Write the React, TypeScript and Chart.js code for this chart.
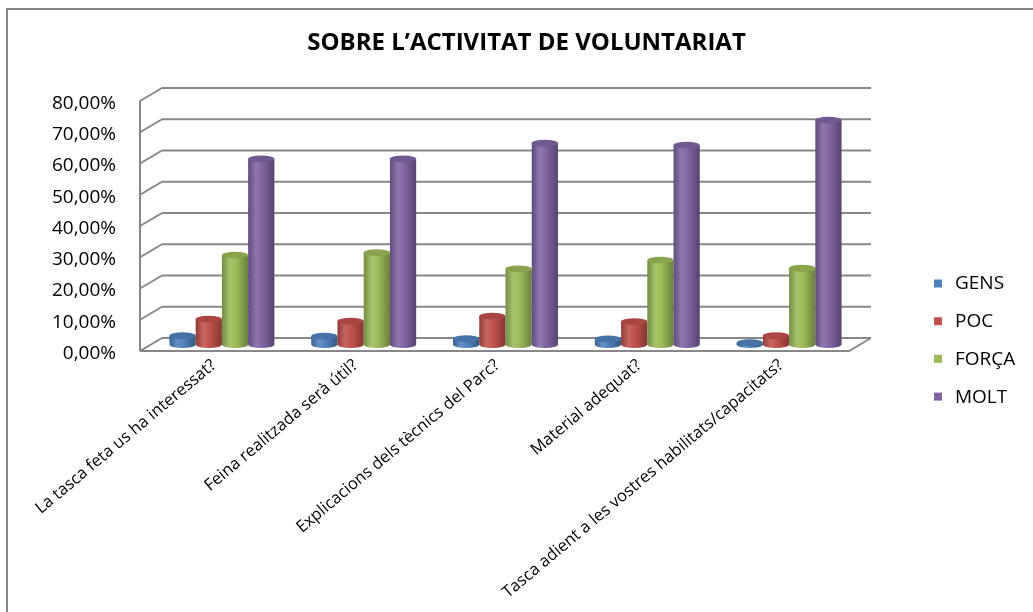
import React, { useEffect, useRef } from "react";
import { Chart, registerables } from "chart.js";

Chart.register(...registerables);

const chartTitle = "SOBRE L’ACTIVITAT DE VOLUNTARIAT";
const categories = [
  "La tasca feta us ha interessat?",
  "Feina realitzada serà útil?",
  "Explicacions dels tècnics del Parc?",
  "Material adequat?",
  "Tasca adient a les vostres habilitats/capacitats?",
];
const seriesNames = ["GENS", "POC", "FORÇA", "MOLT"];
const gens = [2.8, 2.7, 1.9, 1.8, 0.6];
const poc = [8.1, 7.5, 9.1, 7.3, 2.8];
const forca = [28.6, 29.4, 24.2, 27.0, 24.4];
const molt = [59.4, 59.4, 64.4, 63.8, 71.8];
const seriesColors = ["#4F81BD", "#C0504D", "#9BBB59", "#8064A2"];
const yMin = 0;
const yMax = 80;
const yStep = 10;

const DX = 11;
const DY = 6.5;

function shade(hex: string, f: number): string {
  const n = parseInt(hex.slice(1), 16);
  const ch = [(n >> 16) & 255, (n >> 8) & 255, n & 255].map((c) => {
    const v = f >= 1 ? c + (255 - c) * (f - 1) : c * f;
    return Math.max(0, Math.min(255, Math.round(v)));
  });
  return `rgb(${ch[0]},${ch[1]},${ch[2]})`;
}

const threeD = {
  id: "threeD",
  beforeDatasetsDraw(chart: any) {
    const { ctx, chartArea } = chart;
    const { left, right } = chartArea;
    const y = chart.scales.y;
    ctx.save();
    ctx.strokeStyle = "#878787";
    ctx.lineWidth = 2;
    const line = (x1: number, y1: number, x2: number, y2: number) => {
      ctx.beginPath();
      ctx.moveTo(x1, y1);
      ctx.lineTo(x2, y2);
      ctx.stroke();
    };
    y.ticks.forEach((t: any) => {
      const py = y.getPixelForValue(t.value);
      line(left + DX, py - DY, right + DX, py - DY);
      line(left - DX, py + DY, left + DX, py - DY);
    });
    const y0 = y.getPixelForValue(yMin);
    const yT = y.getPixelForValue(yMax);
    line(left - DX, y0 + DY, left - DX, yT + DY);
    ctx.beginPath();
    ctx.moveTo(left - DX, y0 + DY);
    ctx.lineTo(right - DX, y0 + DY);
    ctx.lineTo(right + DX, y0 - DY);
    ctx.stroke();
    ctx.restore();
  },
  afterDatasetsDraw(chart: any) {
    const { ctx } = chart;
    ctx.save();
    chart.data.datasets.forEach((ds: any, i: number) => {
      const meta = chart.getDatasetMeta(i);
      const c = seriesColors[i];
      meta.data.forEach((el: any) => {
        const { x, y, base, width } = el.getProps(["x", "y", "base", "width"], true);
        const w = width;
        const l = x - w / 2;
        const r = x + w / 2;
        const ry = 3.4;
        const grad = ctx.createLinearGradient(l, 0, r, 0);
        grad.addColorStop(0, shade(c, 0.75));
        grad.addColorStop(0.3, shade(c, 1.12));
        grad.addColorStop(0.55, shade(c, 1.0));
        grad.addColorStop(1, shade(c, 0.68));
        ctx.fillStyle = grad;
        ctx.beginPath();
        ctx.moveTo(l, y);
        ctx.lineTo(l, base);
        ctx.ellipse(x, base, w / 2, ry, 0, Math.PI, 0, true);
        ctx.lineTo(r, y);
        ctx.closePath();
        ctx.fill();
        ctx.fillStyle = shade(c, 0.88);
        ctx.beginPath();
        ctx.ellipse(x, y, w / 2, ry, 0, 0, Math.PI * 2);
        ctx.fill();
      });
    });
    ctx.restore();
  },
  afterDraw(chart: any) {
    const { ctx } = chart;
    ctx.save();
    // legend
    const cy0 = 283;
    const gap = 37.7;
    ctx.font = '19px "Open Sans"';
    ctx.textBaseline = "middle";
    ctx.textAlign = "left";
    seriesNames.forEach((name, i) => {
      const cy = cy0 + gap * i;
      ctx.fillStyle = seriesColors[i];
      ctx.fillRect(934, cy - 3.5, 8, 8);
      ctx.fillStyle = "#000";
      ctx.fillText(name, 955, cy + 1);
    });
    // outer frame
    ctx.strokeStyle = "#868686";
    ctx.lineWidth = 2;
    ctx.strokeRect(7, 9, 1100, 700);
    ctx.restore();
  },
};

export default function App() {
  const ref = useRef<HTMLCanvasElement | null>(null);
  useEffect(() => {
    if (!ref.current) return;
    const values = [gens, poc, forca, molt];
    const chart = new Chart(ref.current, {
      type: "bar",
      data: {
        labels: categories,
        datasets: seriesNames.map((name, i) => ({
          label: name,
          data: values[i],
          backgroundColor: "rgba(0,0,0,0)",
          borderWidth: 0,
          categoryPercentage: 0.74,
          barPercentage: 1.0,
        })),
      },
      options: {
        responsive: false,
        animation: false,
        layout: { padding: { left: 20, right: 0, top: 0, bottom: 0 } },
        plugins: {
          legend: { display: false },
          tooltip: { enabled: false },
          title: {
            display: true,
            text: chartTitle,
            color: "#000",
            font: { family: "Open Sans", size: 24, weight: "bold" },
            padding: { top: 28.6, bottom: 37.1 },
          },
        },
        scales: {
          x: {
            grid: { display: false, drawTicks: false },
            border: { display: false },
            ticks: {
              autoSkip: false,
              minRotation: 40,
              maxRotation: 40,
              padding: 11,
              labelOffset: -8,
              color: "#000",
              font: { family: "Open Sans", size: 16.5 },
            },
            afterFit: (s: any) => {
              s.height = 267.5;
            },
          },
          y: {
            min: yMin,
            max: yMax,
            grid: { display: false, drawTicks: false },
            border: { display: false },
            ticks: {
              stepSize: yStep,
              labelOffset: DY + 2.5,
              padding: 35,
              color: "#000",
              font: { family: "Open Sans", size: 19 },
              callback: (v: any) => Number(v).toFixed(2).replace(".", ",") + "%",
            },
            afterFit: (s: any) => {
              s.width = 131;
            },
          },
          yRight: {
            position: "right",
            display: true,
            grid: { display: false, drawTicks: false },
            border: { display: false },
            ticks: { display: false },
            afterFit: (s: any) => {
              s.width = 173;
            },
          },
        },
      },
      plugins: [threeD],
    });
    return () => chart.destroy();
  }, []);
  return (
    <div style={{ position: "fixed", left: 0, top: 0, width: 1033, height: 612, background: "#fff" }}>
      <canvas ref={ref} width={1033} height={612} style={{ display: "block" }} />
    </div>
  );
}
